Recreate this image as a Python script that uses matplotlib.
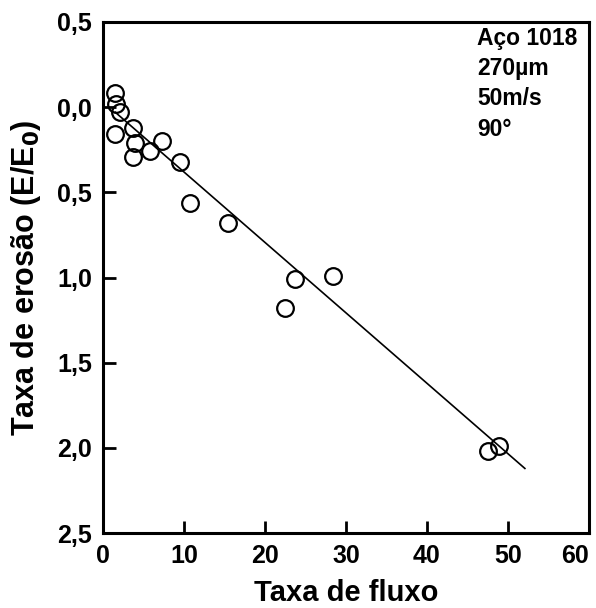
import matplotlib
matplotlib.use('Agg')
import matplotlib.pyplot as plt

# pontos (taxa de fluxo, taxa de erosao)
fluxo = [1.5, 1.6, 2.1, 1.5, 3.7, 4.0, 3.7, 5.8, 7.3, 9.5, 10.7, 15.4,
         22.5, 23.7, 28.4, 47.5, 48.9]
erosao = [-0.08, -0.02, 0.03, 0.16, 0.12, 0.21, 0.29, 0.26, 0.20, 0.32,
          0.56, 0.68, 1.18, 1.01, 0.99, 2.02, 1.99]

# reta ajustada
reta_x = [1.5, 52.1]
reta_y = [0.03, 2.12]

xticks = [0, 10, 20, 30, 40, 50, 60]
yticks = [-0.5, 0.0, 0.5, 1.0, 1.5, 2.0, 2.5]
ytick_labels = ['0,5', '0,0', '0,5', '1,0', '1,5', '2,0', '2,5']

info = ['Aço 1018', '270\u00b5m', '50m/s', '90°']

plt.rcParams['font.family'] = ['Liberation Sans', 'DejaVu Sans']

fig = plt.figure(figsize=(5.96, 6.08), dpi=100)
ax = fig.add_axes([0.173, 0.123, 0.815, 0.841])

ax.plot(reta_x, reta_y, color='black', linewidth=1.2, zorder=2)
ax.plot(fluxo, erosao, linestyle='none', marker='o', markersize=12,
        markerfacecolor='none', markeredgecolor='black', markeredgewidth=1.6, zorder=3)

ax.set_xlim(0, 60)
ax.set_ylim(2.5, -0.5)
ax.set_xticks(xticks)
ax.set_yticks(yticks)
ax.set_yticklabels(ytick_labels)

for s in ax.spines.values():
    s.set_linewidth(2.2)
ax.tick_params(direction='in', length=9, width=2, labelsize=18, pad=8)
for lb in ax.get_xticklabels() + ax.get_yticklabels():
    lb.set_fontweight('bold')
# o "60" fica encostado a esquerda da ponta do eixo
ax.get_xticklabels()[-1].set_horizontalalignment('right')

ax.set_xlabel('Taxa de fluxo', fontsize=21, fontweight='bold', labelpad=8)
ax.set_ylabel('Taxa de erosão (E/E$_\\mathbf{0}$)', fontsize=22, fontweight='bold', labelpad=10)

for i, t in enumerate(info):
    ax.text(0.77, 0.99 - i * 0.059, t, transform=ax.transAxes, ha='left', va='top',
            fontsize=16.5, fontweight='bold')

fig.savefig('out.png', dpi=100)
